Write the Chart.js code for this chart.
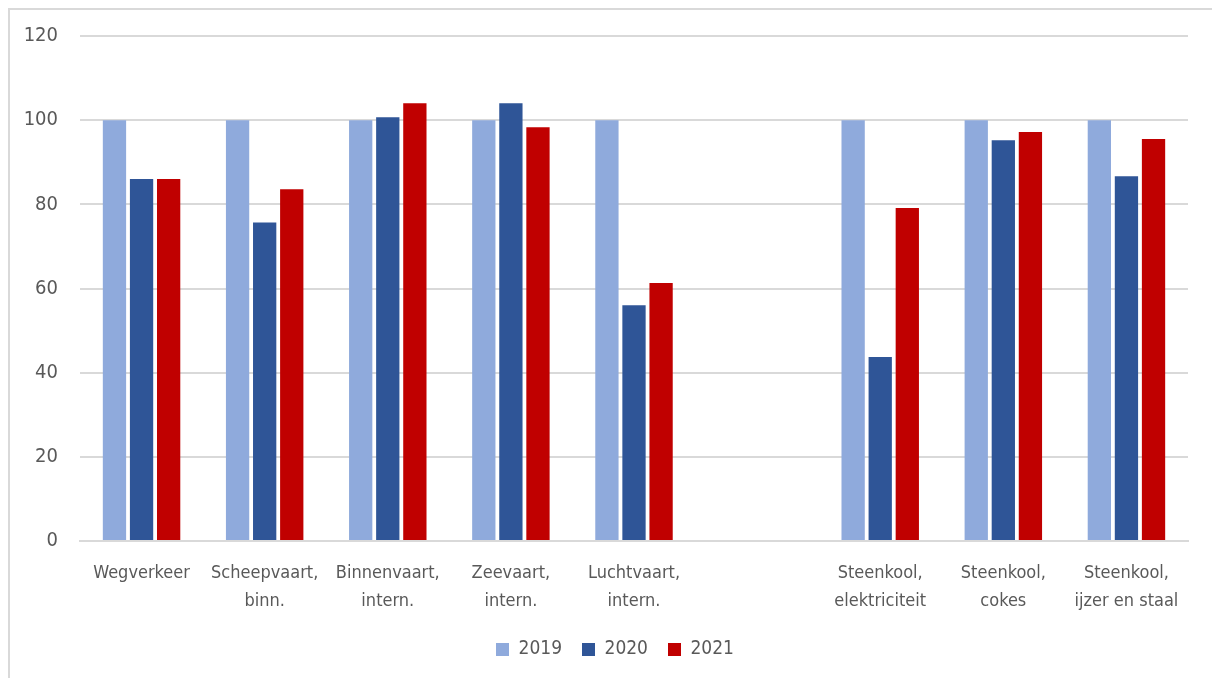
<!DOCTYPE html>
<html>
<head>
<meta charset="utf-8">
<script src="https://cdn.jsdelivr.net/npm/chart.js@4/dist/chart.umd.min.js"></script>
<style>
  html, body { margin: 0; padding: 0; background: #fff; }
  #wrap { position: relative; width: 1212px; height: 678px; overflow: hidden; }
  #frame {
    position: absolute; left: 8px; top: 8px; width: 1300px; height: 700px;
    border-top: 2px solid #d9d9d9; border-left: 2px solid #d9d9d9;
  }
  canvas { position: absolute; left: 0; top: 0; }
</style>
</head>
<body>
<div id="wrap">
  <div id="frame"></div>
  <canvas id="chart" width="1212" height="678"></canvas>
</div>
<script>
  'use strict';

  // categorieën (lege plek tussen luchtvaart en steenkool)
  const categories = [
    'Wegverkeer',
    ['Scheepvaart,', 'binn.'],
    ['Binnenvaart,', 'intern.'],
    ['Zeevaart,', 'intern.'],
    ['Luchtvaart,', 'intern.'],
    '',
    ['Steenkool,', 'elektriciteit'],
    ['Steenkool,', 'cokes'],
    ['Steenkool,', 'ijzer en staal'],
  ];
  const years = ['2019', '2020', '2021'];
  const values2019 = [100, 100, 100, 100, 100, null, 100, 100, 100];
  const values2020 = [86.0, 75.7, 100.7, 104.0, 56.0, null, 43.7, 95.2, 86.7];
  const values2021 = [86.0, 83.6, 104.0, 98.3, 61.3, null, 79.1, 97.2, 95.5];
  const yTicks = [0, 20, 40, 60, 80, 100, 120];

  const colors = ['#8faadc', '#2f5597', '#c00000'];
  const textColor = '#595959';
  const gridColor = '#d9d9d9';
  const fontFamily = '"DejaVu Sans Condensed", "Liberation Sans", sans-serif';

  // legenda iets naar rechts, zoals in het origineel (gecentreerd op ~x=615)
  const legendShift = {
    id: 'legendShift',
    afterLayout(chart) {
      chart.legend.left += 42;
    },
  };

  const ctx = document.getElementById('chart').getContext('2d');
  new Chart(ctx, {
    type: 'bar',
    data: {
      labels: categories,
      datasets: [values2019, values2020, values2021].map((d, i) => ({
        label: years[i],
        data: d,
        backgroundColor: colors[i],
        borderWidth: 0,
        categoryPercentage: 0.66,
        barPercentage: 0.86,
      })),
    },
    options: {
      responsive: false,
      animation: false,
      layout: { padding: { left: 0, right: 24, top: 36, bottom: 9 } },
      plugins: {
        tooltip: { enabled: false },
        legend: {
          position: 'bottom',
          labels: {
            color: textColor,
            font: { family: fontFamily, size: 19 },
            boxWidth: 13,
            boxHeight: 13,
            padding: 20,
          },
        },
      },
      scales: {
        x: {
          grid: { display: false },
          border: { color: gridColor, width: 2 },
          ticks: {
            color: textColor,
            font: { family: fontFamily, size: 18, lineHeight: 1.55 },
            maxRotation: 0,
            autoSkip: false,
            padding: 10,
          },
          afterFit: (scale) => { scale.height = 79; },
        },
        y: {
          min: 0,
          max: 120,
          afterBuildTicks: (scale) => { scale.ticks = yTicks.map((v) => ({ value: v })); },
          grid: { color: gridColor, lineWidth: 2, drawTicks: false },
          border: { display: false },
          ticks: {
            color: textColor,
            font: { family: fontFamily, size: 20 },
            padding: 22,
          },
          afterFit: (scale) => { scale.width = 80; },
        },
      },
    },
    plugins: [legendShift],
  });
</script>
</body>
</html>
